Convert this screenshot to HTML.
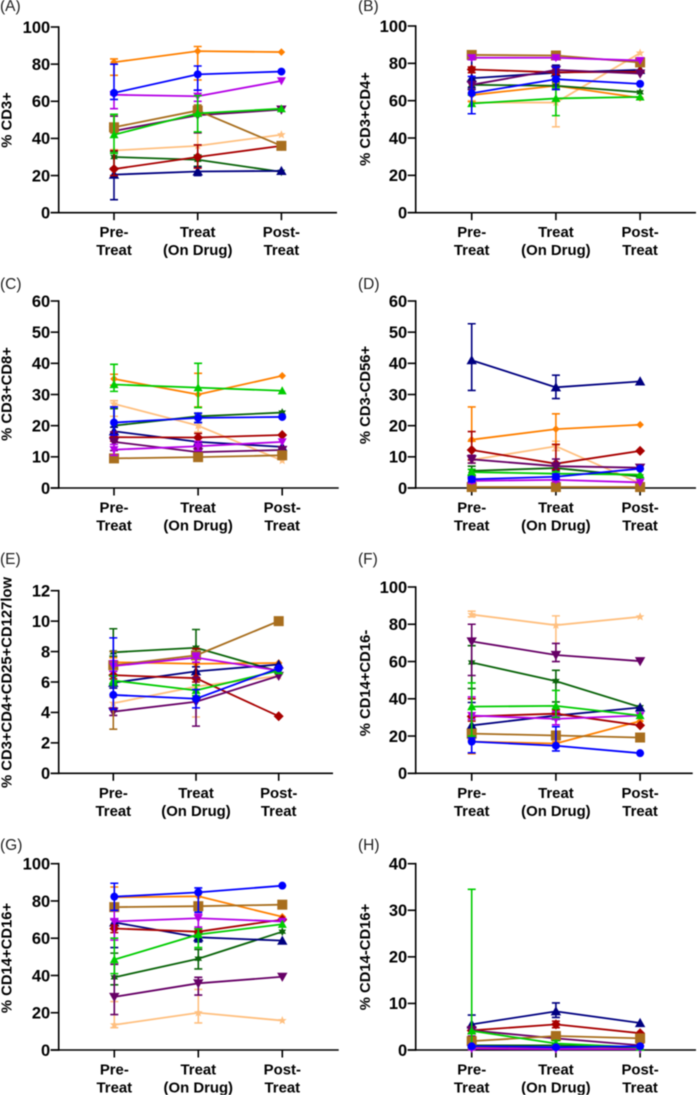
<!DOCTYPE html>
<html lang="en">
<head>
<meta charset="utf-8">
<title>Immune cell percentages across treatment phases</title>
<style>
  html, body { margin: 0; padding: 0; background: #fff; }
  body { width: 697px; height: 1095px; overflow: hidden; }
  svg { display: block; filter: blur(0.45px); font-family: "Liberation Sans", Arial, sans-serif; }
  .panel-letter { font-size: 15.5px; fill: #222; }
  .y-title { font-size: 14.8px; font-weight: bold; fill: #000; text-anchor: middle; }
  .tick-label { font-size: 16.5px; font-weight: bold; fill: #000; text-anchor: end; }
  .cat-label { font-size: 14.9px; font-weight: bold; fill: #000; text-anchor: middle; }
</style>
</head>
<body>
<svg id="fig" width="697" height="1095" viewBox="0 0 697 1095" xmlns="http://www.w3.org/2000/svg">
  <g id="panel-a">
    <text class="panel-letter" x="0" y="11">(A)</text>
    <text class="y-title" transform="translate(11.5 120) rotate(-90)">% CD3+</text>
  </g>
  <g id="panel-b">
    <text class="panel-letter" x="358" y="11">(B)</text>
    <text class="y-title" transform="translate(370 119) rotate(-90)">% CD3+CD4+</text>
  </g>
  <g id="panel-c">
    <text class="panel-letter" x="0" y="289">(C)</text>
    <text class="y-title" transform="translate(11.5 394) rotate(-90)">% CD3+CD8+</text>
  </g>
  <g id="panel-d">
    <text class="panel-letter" x="358" y="289">(D)</text>
    <text class="y-title" transform="translate(370 395) rotate(-90)">% CD3-CD56+</text>
  </g>
  <g id="panel-e">
    <text class="panel-letter" x="0" y="564">(E)</text>
    <text class="y-title" transform="translate(11.5 682.5) rotate(-90)">% CD3+CD4+CD25+CD127low</text>
  </g>
  <g id="panel-f">
    <text class="panel-letter" x="358" y="564">(F)</text>
    <text class="y-title" transform="translate(370 683) rotate(-90)">% CD14+CD16-</text>
  </g>
  <g id="panel-g">
    <text class="panel-letter" x="0" y="850">(G)</text>
    <text class="y-title" transform="translate(11.5 958) rotate(-90)">% CD14+CD16+</text>
  </g>
  <g id="panel-h">
    <text class="panel-letter" x="358" y="850">(H)</text>
    <text class="y-title" transform="translate(370 957) rotate(-90)">% CD14-CD16+</text>
  </g>
</svg>
<script>
// Shared category labels (two printed lines each) and series identity
const categories = [["Pre-", "Treat"], ["Treat", "(On Drug)"], ["Post-", "Treat"]];
const seriesNames = ["peach", "orange", "dark-green", "navy", "dark-red", "purple", "brown", "violet", "green", "blue"];

// Tick labels per panel
const ticksA = [0, 20, 40, 60, 80, 100];
const ticksB = [0, 20, 40, 60, 80, 100];
const ticksC = [0, 10, 20, 30, 40, 50, 60];
const ticksD = [0, 10, 20, 30, 40, 50, 60];
const ticksE = [0, 2, 4, 6, 8, 10, 12];
const ticksF = [0, 20, 40, 60, 80, 100];
const ticksG = [0, 20, 40, 60, 80, 100];
const ticksH = [0, 10, 20, 30, 40];

// Means: one row per series (order of seriesNames), one column per category
const valuesA = [[33.5, 36, 42], [81, 87, 86.5], [30, 28.5, 22], [20.5, 22.2, 22.5], [23.5, 30, 36], [44, 52.5, 55.5], [46, 55, 36], [63.5, 62.7, 71], [42, 53.5, 56], [64.5, 74.5, 76]];
const valuesB = [[59, 59, 85.5], [63, 68, 61.5], [68.5, 68, 64.5], [72, 75, 76.5], [76.7, 75.2, 75.5], [68.5, 76.5, 74.5], [84.5, 84.2, 80.5], [83, 83, 81.5], [58.5, 61.2, 62], [64, 71.5, 69]];
const valuesC = [[27, 20, 8.8], [35, 30, 36], [20, 23, 24.2], [18.2, 14.8, 13.2], [16.3, 16.2, 17], [14.8, 11.5, 12.2], [9.5, 9.9, 10.5], [12.3, 13.4, 14.8], [33.2, 32.2, 31.2], [21, 22.5, 22.8]];
const valuesD = [[9, 13.4, 1.5], [15.5, 18.9, 20.3], [5.5, 6.4, 3.7], [41, 32.3, 34.2], [12.2, 7.8, 11.9], [9.2, 7, 6.5], [0.3, 0.3, 0.3], [2.3, 2.6, 1.8], [5.1, 4.6, 4.3], [2.8, 3.6, 6.2]];
const valuesE = [[4.6, 5.7, 6.4], [7.3, 7.2, 7.25], [7.95, 8.25, 6.7], [5.95, 6.7, 7.15], [6.45, 6.25, 3.75], [4.05, 4.7, 6.4], [7.1, 7.75, 10], [7.05, 7.6, 6.75], [6.1, 5.45, 6.75], [5.15, 4.9, 6.9]];
const valuesF = [[85.2, 79.5, 84], [17, 16, 28], [59.5, 49.5, 35.5], [25.7, 31, 35.3], [30.5, 32, 25.7], [70.8, 63.5, 60.2], [21.3, 20.3, 19.2], [31, 29.2, 31], [35.8, 36.2, 31], [17, 14.8, 10.8]];
const valuesG = [[13.5, 20, 15.8], [82, 82.5, 71.5], [39, 49, 63.5], [68.5, 60.5, 58.7], [65.2, 63.5, 70], [28.5, 35.8, 39.3], [76.7, 77.2, 78], [69, 70.7, 69], [48.5, 62, 67.5], [82.3, 84.6, 88.2]];
const valuesH = [[0.5, 0.5, 0.5], [0.5, 0.5, 0.3], [1, 1, 0.5], [5.5, 8.3, 5.8], [4.2, 5.5, 3.6], [4.2, 2.5, 1], [1.9, 3, 2.5], [0.3, 0.2, 0.2], [4.1, 1.4, 0.6], [0.8, 0.6, 0.8]];

// Error bar ends: [pre-high, pre-low, treat-high, treat-low] per series
const errorsA = [[34, 33, 43, 36], [82.8, 74, 89.5, 71.5], [33, 24, 31, 25], [24, 7, 24.5, 20], [33.5, 20, 36.5, 24], [52, 43, 57, 43], [53, 43, 58, 52], [63.5, 56, 66, 60], [53, 32, 63, 43.5], [80, 61, 79, 66]];
const errorsB = [[60, 53, 66, 46], [64, 59.5, 69, 67], [71, 66, 70, 66], [82, 67, 79, 72], [78, 75, 76.5, 74], [70, 66, 78, 75], [86, 83, 85.5, 83], [84, 82, 84, 82], [63, 53, 67, 52], [73, 53, 78, 66]];
const errorsC = [[28, 23, 21, 18], [36.5, 33, 36.8, 26], [25.5, 18, 24, 21], [19.5, 16, 16, 13], [18, 15, 17.5, 15], [18, 12, 13, 10], [10, 9, 10.5, 9.3], [14, 10.5, 15, 12], [39.7, 31, 40, 25.8], [26, 17, 24, 21]];
const errorsD = [[10, 8, 15, 12], [26, 15, 23.8, 14], [7, 4, 7.5, 5.5], [52.7, 31.3, 36.2, 28.7], [18.1, 9, 14, 6], [10.5, 8, 9.3, 5.5], [0.5, 0.1, 0.5, 0.1], [3, 1.5, 3.2, 2], [6, 4.2, 5.2, 4], [3.5, 2, 4.5, 2.8]];
const errorsE = [[5, 4.2, 6.2, 3.7], [7.6, 7, 7.5, 6.2], [9.5, 7.7, 9.45, 7.9], [6.4, 5.6, 7, 6.3], [6.7, 6.2, 8.2, 6], [4.3, 3.8, 6.3, 3.1], [8, 2.9, 8, 7.5], [7.4, 6.7, 7.9, 7.3], [6.4, 5.8, 5.8, 5.1], [8.9, 4.2, 5.5, 4.3]];
const errorsF = [[87, 84, 84.5, 65], [18, 10.5, 17, 15], [68.5, 45.5, 55.3, 38.3], [38, 23, 33, 29], [40, 28, 34, 30], [80, 52.5, 69.7, 60], [22, 20, 21, 19], [41, 29, 33, 26], [48.5, 20, 44.5, 30], [19, 11, 25, 12]];
const errorsG = [[26, 12, 32.5, 14.5], [87.5, 76, 84, 75], [52, 35, 54, 43.5], [70, 55, 63, 58], [67, 63, 65, 62], [46, 19, 39, 29.5], [78, 75, 79, 75], [75, 59, 73, 66], [60, 41, 65, 55], [89.5, 75, 87, 74]];
const errorsH = [[0.7, 0.3, 0.7, 0.3], [0.7, 0.3, 0.7, 0.3], [1.3, 0.7, 1.3, 0.7], [7.5, 3.5, 10.1, 7], [5, 3.5, 6.2, 4.8], [5, 3, 3, 2], [2.3, 1.5, 3.5, 2.5], [0.5, 0.1, 0.4, 0.1], [34.5, 0.5, 2, 1], [1, 0.6, 0.8, 0.4]];

const seriesColor = { "peach": "#FFC080", "orange": "#FF8000", "dark-green": "#0A640A", "navy": "#000080", "dark-red": "#A80000", "purple": "#660066", "brown": "#A86E1E", "violet": "#B400E6", "green": "#00CC00", "blue": "#0000FF" };
const seriesShape = { "peach": "star5", "orange": "diamond-small", "dark-green": "star6", "navy": "tri-up", "dark-red": "diamond", "purple": "tri-down", "brown": "square", "violet": "tri-down-small", "green": "tri-up-small", "blue": "circle" };

const SVGNS = "http://www.w3.org/2000/svg";
function mk(tag, attrs, parent) {
  const n = document.createElementNS(SVGNS, tag);
  for (const k in attrs) n.setAttribute(k, attrs[k]);
  parent.appendChild(n);
  return n;
}
function starPoints(cx, cy, R, r, k) {
  const pts = [];
  for (let i = 0; i < k * 2; i++) {
    const a = -Math.PI / 2 + i * Math.PI / k;
    const rad = i % 2 ? r : R;
    pts.push((cx + rad * Math.cos(a)).toFixed(2) + "," + (cy + rad * Math.sin(a)).toFixed(2));
  }
  return pts.join(" ");
}
function marker(shape, cx, cy, color, parent) {
  const tri = function (h, w, dir) {
    return [cx - w, cy + dir * h * 0.6, cx + w, cy + dir * h * 0.6, cx, cy - dir * h * 0.75].join(" ");
  };
  if (shape === "circle") return mk("circle", { cx: cx, cy: cy, r: 4, fill: color }, parent);
  if (shape === "square") return mk("rect", { x: cx - 5, y: cy - 5, width: 10, height: 10, fill: color }, parent);
  if (shape === "diamond") return mk("polygon", { points: [cx, cy - 5, cx + 5, cy, cx, cy + 5, cx - 5, cy].join(" "), fill: color }, parent);
  if (shape === "diamond-small") return mk("polygon", { points: [cx, cy - 3.8, cx + 3.8, cy, cx, cy + 3.8, cx - 3.8, cy].join(" "), fill: color }, parent);
  if (shape === "tri-up") return mk("polygon", { points: tri(6.8, 5.2, 1), fill: color }, parent);
  if (shape === "tri-up-small") return mk("polygon", { points: tri(6, 4.5, 1), fill: color }, parent);
  if (shape === "tri-down") return mk("polygon", { points: tri(6.8, 5.2, -1), fill: color }, parent);
  if (shape === "tri-down-small") return mk("polygon", { points: tri(6, 4.5, -1), fill: color }, parent);
  if (shape === "star5") return mk("polygon", { points: starPoints(cx, cy, 4.6, 2, 5), fill: color }, parent);
  return mk("polygon", { points: starPoints(cx, cy, 4.4, 2.4, 6), fill: color }, parent);
}

function drawPanel(id, layout, ticks, values, errors) {
  const root = document.getElementById(id);
  const maxV = ticks[ticks.length - 1];
  const y = function (v) { return layout.y0 + (layout.yTop - layout.y0) * v / maxV; };
  const x = function (i) { return layout.xs[0] + (layout.xs[1] - layout.xs[0]) * i; };

  const axes = mk("g", { stroke: "#000", "stroke-width": 1.6, fill: "none" }, root);
  
  

  const yAxis = mk("line", { x1: layout.axisX, x2: layout.axisX, y1: layout.yTop - 0.8, y2: layout.y0 + 0.8 }, axes);
  
  

  const xAxis = mk("line", { x1: layout.axisX - 8, x2: layout.xEnd, y1: layout.y0, y2: layout.y0 }, axes);
  
  

  ticks.forEach(function (t) {
    const yy = y(t);
    const tick = mk("line", { x1: layout.axisX - 8, x2: layout.axisX, y1: yy, y2: yy }, axes);
    
    

    const label = mk("text", { "class": "tick-label", x: layout.axisX - 8.5, y: yy + 5.8 }, root);
    
    
    label.textContent = t;
  });

  categories.forEach(function (c, i) {
    const cx = x(i);
    const tick = mk("line", { x1: cx, x2: cx, y1: layout.y0, y2: layout.y0 + 7.5 }, axes);
    
    

    const l1 = mk("text", { "class": "cat-label", x: cx, y: layout.y0 + 24.5 }, root);
    
    
    l1.textContent = c[0];

    const l2 = mk("text", { "class": "cat-label", x: cx, y: layout.y0 + 42.5 }, root);
    
    
    l2.textContent = c[1];
  });

  seriesNames.forEach(function (name, s) {
    const color = seriesColor[name];
    const g = mk("g", {}, root);
    
    

    [0, 1].forEach(function (k) {
      const hi = y(errors[s][k * 2]);
      const lo = y(errors[s][k * 2 + 1]);
      const cx = x(k);
      const d = "M" + cx + " " + hi + "V" + lo + "M" + (cx - 4) + " " + hi + "H" + (cx + 4) + "M" + (cx - 4) + " " + lo + "H" + (cx + 4);
      const eb = mk("path", { d: d, stroke: color, "stroke-width": 1.6, fill: "none" }, g);
      
      
    });

    const pts = values[s].map(function (v, i) { return x(i) + "," + y(v); }).join(" ");
    const line = mk("polyline", { points: pts, stroke: color, "stroke-width": 1.8, fill: "none", "stroke-linejoin": "round" }, g);
    
    

    values[s].forEach(function (v, i) {
      const m = marker(seriesShape[name], x(i), y(v), color, g);
      
      
    });
  });
}

drawPanel("panel-a", { axisX: 58.7, yTop: 27, y0: 212.7, xs: [114, 197.7], xEnd: 337 }, ticksA, valuesA, errorsA);
drawPanel("panel-b", { axisX: 415.7, yTop: 26, y0: 212.7, xs: [471.7, 555.9], xEnd: 696 }, ticksB, valuesB, errorsB);
drawPanel("panel-c", { axisX: 58.7, yTop: 301, y0: 488, xs: [114, 198.1], xEnd: 338.7 }, ticksC, valuesC, errorsC);
drawPanel("panel-d", { axisX: 415.7, yTop: 301, y0: 488, xs: [471.7, 555.9], xEnd: 696 }, ticksD, valuesD, errorsD);
drawPanel("panel-e", { axisX: 58.7, yTop: 590.7, y0: 773.3, xs: [113.3, 196], xEnd: 333 }, ticksE, valuesE, errorsE);
drawPanel("panel-f", { axisX: 415.7, yTop: 587, y0: 773.3, xs: [471.7, 555.9], xEnd: 692.7 }, ticksF, valuesF, errorsF);
drawPanel("panel-g", { axisX: 58.7, yTop: 863.7, y0: 1050, xs: [114.3, 198.3], xEnd: 338.7 }, ticksG, valuesG, errorsG);
drawPanel("panel-h", { axisX: 415.7, yTop: 863.7, y0: 1050, xs: [471.7, 555.9], xEnd: 696 }, ticksH, valuesH, errorsH);
</script>
</body>
</html>
